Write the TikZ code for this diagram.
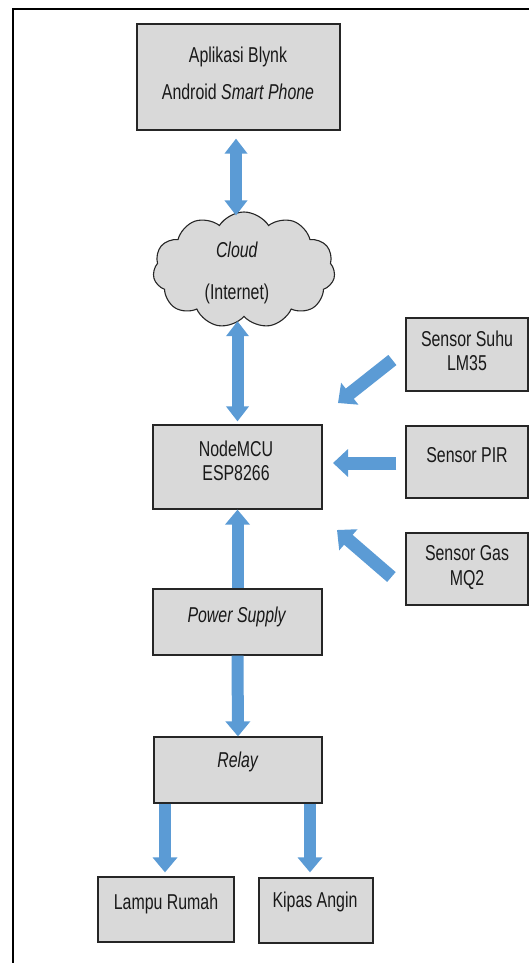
\documentclass[tikz,border=0pt]{standalone}
\usepackage{fontspec}
\setmainfont{Liberation Sans}[FakeStretch=0.74]
\usetikzlibrary{shapes.symbols,arrows.meta,calc}
\definecolor{boxgray}{HTML}{D9D9D9}
\definecolor{arrblue}{HTML}{5B9BD5}
\begin{document}
\begin{tikzpicture}[x=1pt,y=-1pt,
  box/.style={draw=black!85, line width=1.2pt, fill=boxgray, inner sep=0pt},
  txt/.style={font=\fontsize{21.5}{24}\selectfont, text=black!90, inner sep=0pt, anchor=base},
  blk/.style={arrblue, line width=12pt, line cap=butt, -{Triangle[width=24pt,length=15pt]}},
  dblk/.style={arrblue, line width=12pt, line cap=butt, {Triangle[width=22pt,length=15pt]}-{Triangle[width=22pt,length=15pt]}},
  sblk/.style={arrblue, line width=13pt, line cap=butt, -{Triangle[width=27pt,length=15pt]}}]
\useasboundingbox (0,0) rectangle (529,963);
% outer frame
\draw[line width=1.6pt] (529,9) -- (13,9) -- (13,963);
% boxes
\node[box, minimum width=203pt, minimum height=106pt] (blynk) at (238.5,77) {};
\node[cloud, cloud puffs=11, cloud puff arc=115, aspect=1.6, draw=black!85, line width=1.1pt, fill=boxgray,
      minimum width=182pt, minimum height=116pt, inner sep=0pt] (cloud) at (244,270) {};
\node[box, minimum width=169pt, minimum height=84pt] (mcu) at (237.5,467) {};
\node[box, minimum width=169pt, minimum height=66pt] (power) at (237.5,622) {};
\node[box, minimum width=168pt, minimum height=66pt] (relay) at (238,770) {};
\node[box, minimum width=136pt, minimum height=65pt] (lampu) at (166,909.5) {};
\node[box, minimum width=114pt, minimum height=65pt] (kipas) at (316,910.5) {};
\node[box, minimum width=122pt, minimum height=73pt] (suhu) at (467,354.5) {};
\node[box, minimum width=122pt, minimum height=72pt] (pir) at (467,462) {};
\node[box, minimum width=122pt, minimum height=72pt] (gas) at (467,569) {};
% texts
\node[txt] (t1) at (238,62.5) {Aplikasi Blynk};
\node[txt] (t2) at (238,99.5) {Android \textit{Smart Phone}};
\node[txt] (t3) at (237,257.5) {\textit{Cloud}};
\node[txt] (t4) at (237,299.5) {(Internet)};
\node[txt] (t5) at (236,456.5) {NodeMCU};
\node[txt] (t6) at (236,480.5) {ESP8266};
\node[txt] (t7) at (237,622.5) {\textit{Power Supply}};
\node[txt] (t8) at (238,767.5) {\textit{Relay}};
\node[txt] (t9) at (166,909.5) {Lampu Rumah};
\node[txt] (t10) at (315,907.5) {Kipas Angin};
\node[txt] (t11) at (467,346.5) {Sensor Suhu};
\node[txt] (t12) at (467,370.5) {LM35};
\node[txt] (t13) at (467,462.5) {Sensor PIR};
\node[txt] (t14) at (467,560.5) {Sensor Gas};
\node[txt] (t15) at (467,585.5) {MQ2};
% free ends of sensor arrows
\coordinate (suhuend) at (338,403);
\coordinate (pirend) at (333,463);
\coordinate (gasend) at (337,530);
% connectors
\draw[dblk, shorten <=8pt, shorten >=-4pt] ([xshift=-2.5pt]blynk.south) -- ([xshift=-2.5pt]blynk.south |- cloud.north);
\draw[dblk, shorten <=4pt, shorten >=3pt] (cloud.south -| mcu.north) -- (mcu.north);
\draw[blk] (power.north) -- (mcu.south);
\draw[blk] (power.south) -- (relay.north);
\draw[blk, shorten >=4pt] ([xshift=-73pt]relay.south) -- ([xshift=-73pt]relay.south |- lampu.north);
\draw[blk, shorten >=5pt] ([xshift=72pt]relay.south) -- ([xshift=72pt]relay.south |- kipas.north);
\draw[sblk] ([xshift=-13pt,yshift=-5.5pt]suhu.west) -- (suhuend);
\draw[sblk] ([xshift=-9pt,yshift=-1pt]pir.west) -- (pirend);
\draw[sblk] ([xshift=-14pt,yshift=-8pt]gas.west) -- (gasend);
\end{tikzpicture}
\end{document}
